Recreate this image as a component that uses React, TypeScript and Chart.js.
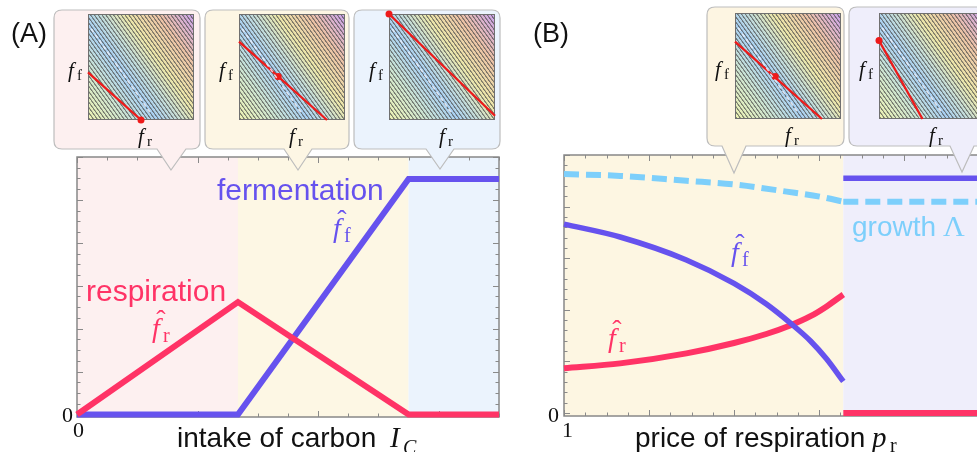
import React, { useEffect, useRef } from 'react';
import { Chart, registerables } from 'chart.js';
Chart.register(...registerables);

// ---------- Panel A data: intake of carbon ----------
const carbonIntake = [0, 5.34, 11, 14];
const respirationA = [0, 0.524, 0, 0];
const fermentationA = [0, 0, 1.097, 1.097];
const regimeBreaksA = [0, 5.34, 11, 14];
const tickLabelsA = ['0', '0'];

// ---------- Panel B data: price of respiration ----------
const priceLeft = [1, 1.33, 1.72, 2.0, 2.19, 2.33, 2.45, 2.545, 2.643];
const respirationBLeft = [0.173, 0.192, 0.231, 0.271, 0.306, 0.339, 0.375, 0.413, 0.459];
const fermentationBLeft = [0.732, 0.682, 0.593, 0.502, 0.422, 0.349, 0.279, 0.209, 0.122];
const priceGrowth = [1, 1.33, 1.72, 2.0, 2.31, 2.51, 2.643];
const growthBLeft = [0.926, 0.919, 0.9, 0.886, 0.858, 0.838, 0.819];
const priceRight = [2.643, 3.5];
const respirationBRight = [0, 0];
const fermentationBRight = [0.91, 0.91];
const growthBRight = [0.819, 0.819];
const regimeBreaksB = [1, 2.643, 3.5];
const tickLabelsB = ['0', '1'];

// ---------- Inset data (normalized f_r, f_f) ----------
const insetLineStartY = [0.45, 0.74, 1.0, 0.73, 0.74];
const insetLineEndX = [0.5, 0.83, 1.0, 0.82, 0.41];
const insetLineEndY = [0, 0, 0.04, 0, 0];
const insetDotX = [0.5, 0.37, 0, 0.38, 0];
const insetDotY = [0, 0.41, 1, 0.4, 0.74];
const ridgeX = [0.03, 0.6];
const ridgeY = [0.86, 0.05];

// ---------- styles / layout ----------
const RED = '#ff3366';
const BLUE = '#6652ee';
const CYAN = '#7dcffb';
const SANS = "'Liberation Sans', Arial, Helvetica, sans-serif";
const SERIF = "'Liberation Serif', 'Times New Roman', serif";

const insetLayout = [
  { L: 88, T: 14 },
  { L: 239, T: 14 },
  { L: 389, T: 14 },
  { L: 735, T: 13 },
  { L: 879, T: 13 },
];
const INSET = 106;

const callouts = [
  { x0: 54, y0: 10, x1: 200, y1: 149, bl: 157, br: 186, ax: 171, ay: 170, fill: '#fdf0f0' },
  { x0: 205, y0: 10, x1: 349, y1: 149, bl: 284, br: 312, ax: 298, ay: 170, fill: '#fdf6e4' },
  { x0: 354, y0: 10, x1: 500, y1: 149, bl: 426, br: 454, ax: 440, ay: 169, fill: '#ebf3fd' },
  { x0: 707, y0: 7, x1: 844, y1: 146, bl: 722, br: 746, ax: 734, ay: 173, fill: '#fdf5e2' },
  { x0: 849, y0: 7, x1: 1000, y1: 146, bl: 950, br: 974, ax: 962, ay: 172, fill: '#efeefb' },
];

const xy = (xs: number[], ys: number[]) => xs.map((x, i) => ({ x, y: ys[i] }));

const isMultiple = (v: number, step: number) => {
  const q = v / step;
  return Math.abs(q - Math.round(q)) < 1e-6;
};

const panelPlugin = {
  id: 'panelDeco',
  beforeDatasetsDraw(chart: any, _args: any, opts: any) {
    const { ctx, chartArea: a, scales } = chart;
    const x = scales.x;
    const y = scales.y;
    ctx.save();
    for (let i = 0; i < opts.colors.length; i++) {
      const x0 = x.getPixelForValue(opts.breaks[i]);
      const x1 = x.getPixelForValue(opts.breaks[i + 1]);
      ctx.fillStyle = opts.colors[i];
      ctx.fillRect(x0, a.top, x1 - x0, a.bottom - a.top);
    }
    ctx.strokeStyle = '#8a8a8a';
    ctx.lineWidth = 1;
    const seg = (x0: number, y0: number, x1: number, y1: number) => {
      ctx.beginPath();
      ctx.moveTo(x0, y0);
      ctx.lineTo(x1, y1);
      ctx.stroke();
    };
    for (let v = opts.xMin; v <= opts.xMax + 1e-9; v += opts.xMinor) {
      const px = Math.round(x.getPixelForValue(v)) + 0.5;
      const len = isMultiple(v - opts.xMin, opts.xMajor) ? 6 : 3.5;
      seg(px, a.bottom, px, a.bottom - len);
      seg(px, a.top, px, a.top + len);
    }
    for (let v = opts.yMin; v <= opts.yMax + 1e-9; v += opts.yMinor) {
      const py = Math.round(y.getPixelForValue(v)) + 0.5;
      const len = isMultiple(v - opts.yMin, opts.yMajor) ? 6 : 3.5;
      seg(a.left, py, a.left + len, py);
      seg(a.right, py, a.right - len, py);
    }
    ctx.lineWidth = 1.5;
    ctx.strokeStyle = '#888';
    ctx.strokeRect(a.left, a.top, a.right - a.left, a.bottom - a.top);
    ctx.restore();
  },
};

const insetPlugin = {
  id: 'insetDeco',
  beforeDatasetsDraw(chart: any) {
    const { ctx, chartArea: a } = chart;
    const w = a.right - a.left;
    const h = a.bottom - a.top;
    ctx.save();
    // gradient perpendicular to the contour stripes
    const dx = 0.814, dy = -0.581;
    const len = w * dx + h * -dy;
    const g = ctx.createLinearGradient(a.left, a.bottom, a.left + len * dx, a.bottom + len * dy);
    g.addColorStop(0, '#eef3b2');
    g.addColorStop(0.2, '#cfe5cf');
    g.addColorStop(0.38, '#a9d0f2');
    g.addColorStop(0.5, '#c6ddd6');
    g.addColorStop(0.62, '#ece7aa');
    g.addColorStop(0.8, '#ecc2a6');
    g.addColorStop(1, '#caa3f0');
    ctx.fillStyle = g;
    ctx.fillRect(a.left, a.top, w, h);
    // contour stripes (texture)
    const tile = document.createElement('canvas');
    tile.width = 10;
    tile.height = 10;
    const tc = tile.getContext('2d')!;
    tc.fillStyle = 'rgba(72,72,72,0.68)';
    tc.fillRect(3, 0, 3.6, 10);
    const pat = ctx.createPattern(tile, 'repeat');
    if (pat) {
      pat.setTransform(new DOMMatrix().translate(a.left, a.top).rotate(-36).scale(0.31));
      ctx.fillStyle = pat;
      ctx.fillRect(a.left, a.top, w, h);
    }
    ctx.strokeStyle = '#707070';
    ctx.lineWidth = 1;
    ctx.strokeRect(a.left + 0.5, a.top + 0.5, w - 1, h - 1);
    ctx.restore();
  },
};

function MainChartA() {
  const ref = useRef<HTMLCanvasElement>(null);
  useEffect(() => {
    const chart = new Chart(ref.current!, {
      type: 'line',
      data: {
        datasets: [
          { label: 'respiration', data: xy(carbonIntake, respirationA), borderColor: RED, borderWidth: 6, pointRadius: 0, tension: 0, borderJoinStyle: 'miter', borderCapStyle: 'butt', clip: 10 } as any,
          { label: 'fermentation', data: xy(carbonIntake, fermentationA), borderColor: BLUE, borderWidth: 6, pointRadius: 0, tension: 0, borderJoinStyle: 'miter', borderCapStyle: 'butt', clip: 10 } as any,
        ],
      },
      options: {
        animation: false,
        responsive: false,
        events: [],
        layout: { padding: { left: 77, top: 157, right: 11, bottom: 35 } },
        plugins: {
          legend: { display: false },
          tooltip: { enabled: false },
          panelDeco: {
            breaks: regimeBreaksA,
            colors: ['#fdf0f0', '#fdf7e4', '#ebf3fd'],
            xMin: 0, xMax: 14, xMinor: 1, xMajor: 4,
            yMin: 0, yMax: 1.2, yMinor: 0.05, yMajor: 0.2,
          },
        } as any,
        scales: {
          x: { type: 'linear', min: 0, max: 14, display: false },
          y: { type: 'linear', min: -0.012, max: 1.2, display: false },
        },
      },
      plugins: [panelPlugin],
    });
    return () => chart.destroy();
  }, []);
  return <canvas ref={ref} width={510} height={452} style={{ position: 'absolute', left: 0, top: 0 }} />;
}

function MainChartB() {
  const ref = useRef<HTMLCanvasElement>(null);
  useEffect(() => {
    const common = { pointRadius: 0, borderCapStyle: 'butt', clip: 10 };
    const chart = new Chart(ref.current!, {
      type: 'line',
      data: {
        datasets: [
          { label: 'fermentation', data: xy(priceLeft, fermentationBLeft), borderColor: BLUE, borderWidth: 5.5, cubicInterpolationMode: 'monotone', ...common } as any,
          { label: 'fermentation2', data: xy(priceRight, fermentationBRight), borderColor: BLUE, borderWidth: 5.5, ...common } as any,
          { label: 'respiration', data: xy(priceLeft, respirationBLeft), borderColor: RED, borderWidth: 6, cubicInterpolationMode: 'monotone', ...common } as any,
          { label: 'respiration2', data: xy(priceRight, respirationBRight), borderColor: RED, borderWidth: 6, ...common } as any,
          { label: 'growth', data: xy(priceGrowth, growthBLeft), borderColor: CYAN, borderWidth: 6, borderDash: [15, 7], cubicInterpolationMode: 'monotone', ...common } as any,
          { label: 'growth2', data: xy(priceRight, growthBRight), borderColor: CYAN, borderWidth: 6, borderDash: [15, 7], ...common } as any,
        ],
      },
      options: {
        animation: false,
        responsive: false,
        events: [],
        layout: { padding: { left: 54, top: 155, right: 21, bottom: 36 } },
        plugins: {
          legend: { display: false },
          tooltip: { enabled: false },
          panelDeco: {
            breaks: regimeBreaksB,
            colors: ['#fdf6e2', '#efeefb'],
            xMin: 1, xMax: 3.5, xMinor: 0.125, xMajor: 0.5,
            yMin: 0, yMax: 1, yMinor: 0.04, yMajor: 0.2,
          },
        } as any,
        scales: {
          x: { type: 'linear', min: 1, max: 3.5, display: false },
          y: { type: 'linear', min: -0.012, max: 1, display: false },
        },
      },
      plugins: [panelPlugin],
    });
    return () => chart.destroy();
  }, []);
  return <canvas ref={ref} width={500} height={452} style={{ position: 'absolute', left: 510, top: 0 }} />;
}

function Inset({ idx }: { idx: number }) {
  const ref = useRef<HTMLCanvasElement>(null);
  const { L, T } = insetLayout[idx];
  const pad = 5;
  useEffect(() => {
    const chart = new Chart(ref.current!, {
      type: 'scatter',
      data: {
        datasets: [
          { data: xy(ridgeX, ridgeY), showLine: true, borderColor: 'rgba(236,240,250,0.85)', borderWidth: 1.5, borderDash: [4, 3], pointRadius: 0, clip: false } as any,
          { data: xy([0, insetLineEndX[idx]], [insetLineStartY[idx], insetLineEndY[idx]]), showLine: true, borderColor: '#ee1a1a', borderWidth: 2.3, pointRadius: 0, clip: false } as any,
          { data: xy([insetDotX[idx]], [insetDotY[idx]]), pointRadius: 3.5, backgroundColor: '#ee1a1a', borderWidth: 0, clip: false } as any,
        ],
      },
      options: {
        animation: false,
        responsive: false,
        events: [],
        layout: { padding: pad },
        plugins: { legend: { display: false }, tooltip: { enabled: false } },
        scales: {
          x: { type: 'linear', min: 0, max: 1, display: false },
          y: { type: 'linear', min: 0, max: 1, display: false },
        },
      },
      plugins: [insetPlugin],
    });
    return () => chart.destroy();
  }, [idx]);
  return (
    <canvas
      ref={ref}
      width={INSET + 2 * pad}
      height={INSET + 2 * pad}
      style={{ position: 'absolute', left: L - pad, top: T - pad }}
    />
  );
}

function calloutPath(c: any) {
  const r = 8;
  return [
    `M ${c.x0 + r} ${c.y0}`,
    `H ${c.x1 - r}`,
    `Q ${c.x1} ${c.y0} ${c.x1} ${c.y0 + r}`,
    `V ${c.y1 - r}`,
    `Q ${c.x1} ${c.y1} ${c.x1 - r} ${c.y1}`,
    `H ${c.br}`,
    `L ${c.ax} ${c.ay}`,
    `L ${c.bl} ${c.y1}`,
    `H ${c.x0 + r}`,
    `Q ${c.x0} ${c.y1} ${c.x0} ${c.y1 - r}`,
    `V ${c.y0 + r}`,
    `Q ${c.x0} ${c.y0} ${c.x0 + r} ${c.y0}`,
    'Z',
  ].join(' ');
}

function HatF({ gl, base, sub, color, size = 28 }: { gl: number; base: number; sub: string; color: string; size?: number }) {
  return (
    <g fill={color}>
      <text x={gl + 3} y={base} fontFamily={SERIF} fontStyle="italic" fontSize={size}>f</text>
      <text x={gl + 12} y={base - 0.28 * size} fontFamily={SERIF} fontSize={size} textAnchor="middle">ˆ</text>
      <text x={gl + 14} y={base + 5} fontFamily={SERIF} fontSize={size * 0.72}>{sub}</text>
    </g>
  );
}

function InsetLabels({ idx }: { idx: number }) {
  const { L, T } = insetLayout[idx];
  return (
    <g fill="#111">
      <text x={L - 20} y={T + 63} fontFamily={SERIF} fontStyle="italic" fontSize={21}>f</text>
      <text x={L - 11} y={T + 66} fontFamily={SERIF} fontSize={15}>f</text>
      <text x={L + 50} y={T + 129} fontFamily={SERIF} fontStyle="italic" fontSize={21}>f</text>
      <text x={L + 59} y={T + 132} fontFamily={SERIF} fontSize={15}>r</text>
    </g>
  );
}

export default function App() {
  return (
    <div style={{ position: 'absolute', left: 0, top: 0, width: 977, height: 452, overflow: 'hidden', background: '#fff' }}>
      <MainChartA />
      <MainChartB />
      <svg width={977} height={452} style={{ position: 'absolute', left: 0, top: 0 }}>
        {callouts.map((c, i) => (
          <path key={i} d={calloutPath(c)} fill={c.fill} stroke="#bdbdbd" strokeWidth={1.2} />
        ))}
      </svg>
      {insetLayout.map((_, i) => (
        <Inset key={i} idx={i} />
      ))}
      <svg width={977} height={452} style={{ position: 'absolute', left: 0, top: 0, pointerEvents: 'none' }}>
        <text x={11} y={42} fontFamily={SANS} fontSize={27} fill="#111">(A)</text>
        <text x={533} y={42} fontFamily={SANS} fontSize={27} fill="#111">(B)</text>

        <text x={86} y={301} fontFamily={SANS} fontSize={30} fill={RED}>respiration</text>
        <text x={217} y={200} fontFamily={SANS} fontSize={30} fill={BLUE}>fermentation</text>
        <text x={852} y={236} fontFamily={SANS} fontSize={28} fill={CYAN}>growth</text>
        <text x={943} y={236} fontFamily={SERIF} fontSize={30} fill={CYAN}>Λ</text>

        <HatF gl={149} base={337} sub="r" color={RED} />
        <HatF gl={330} base={237} sub="f" color={BLUE} />
        <HatF gl={605} base={347} sub="r" color={RED} />
        <HatF gl={728} base={261} sub="f" color={BLUE} />

        <text x={177} y={447} fontFamily={SANS} fontSize={28} fill="#111">intake of carbon</text>
        <text x={390} y={447} fontFamily={SERIF} fontStyle="italic" fontSize={29} fill="#111">I</text>
        <text x={403} y={454} fontFamily={SERIF} fontStyle="italic" fontSize={20} fill="#111">C</text>

        <text x={635} y={447} fontFamily={SANS} fontSize={28} fill="#111">price of respiration</text>
        <text x={872} y={447} fontFamily={SERIF} fontStyle="italic" fontSize={29} fill="#111">p</text>
        <text x={890} y={452} fontFamily={SERIF} fontSize={20} fill="#111">r</text>

        <text x={62} y={422} fontFamily={SERIF} fontSize={22} fill="#111">{tickLabelsA[0]}</text>
        <text x={73} y={437} fontFamily={SERIF} fontSize={22} fill="#111">{tickLabelsA[1]}</text>
        <text x={548} y={422} fontFamily={SERIF} fontSize={22} fill="#111">{tickLabelsB[0]}</text>
        <text x={562} y={437} fontFamily={SERIF} fontSize={22} fill="#111">{tickLabelsB[1]}</text>

        {insetLayout.map((_, i) => (
          <InsetLabels key={i} idx={i} />
        ))}
      </svg>
    </div>
  );
}
